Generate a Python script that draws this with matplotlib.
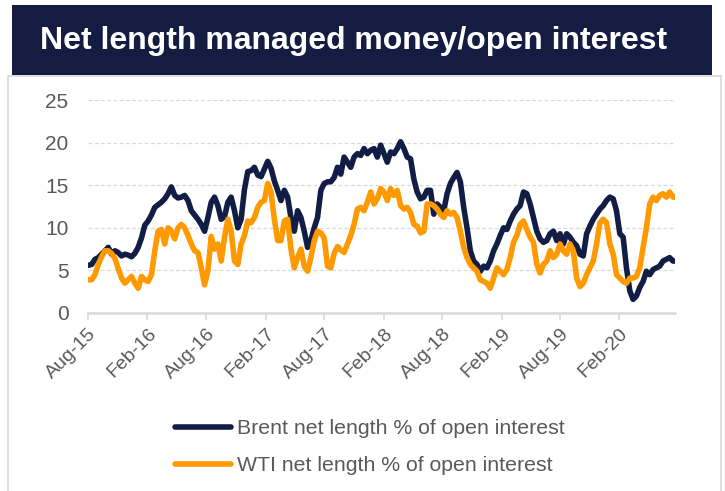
import matplotlib
matplotlib.use("Agg")
import matplotlib.pyplot as plt
import pandas as pd
from matplotlib.patches import Rectangle

title = "Net length managed money/open interest"
brent_label = "Brent net length % of open interest"
wti_label = "WTI net length % of open interest"

# weekly-ish readings, evenly spaced between these two dates
first_date = "2015-08-02"
last_date = "2020-07-26"

brent = [
    5.6, 5.7, 6.3, 6.5, 6.9, 7.3, 7.7, 6.9, 7.3, 7.1, 6.7, 6.9, 6.8, 6.6,
    7.0, 7.7, 8.8, 10.3, 10.8, 11.5, 12.4, 12.7, 13.0, 13.4, 14.0, 14.8, 13.8, 13.5,
    13.6, 13.8, 13.2, 12.0, 11.5, 11.0, 10.4, 9.6, 11.2, 13.0, 13.6, 12.6, 11.0, 11.3,
    13.0, 13.6, 12.0, 10.0, 11.0, 14.5, 16.6, 16.7, 17.1, 16.2, 16.0, 16.9, 17.8, 17.0,
    15.5, 14.4, 13.2, 14.4, 13.6, 11.2, 9.6, 12.0, 11.2, 9.6, 7.7, 8.5, 10.0, 11.2,
    14.4, 15.2, 15.4, 15.4, 15.9, 17.1, 16.3, 18.3, 17.7, 17.1, 18.3, 18.7, 18.5, 19.3, 18.7,
    19.1, 19.3, 18.3, 19.7, 18.7, 17.7, 18.9, 18.7, 19.3, 20.1, 19.3, 18.3, 18.1, 15.7,
    14.2, 13.4, 13.6, 14.4, 14.4, 11.6, 12.8, 12.4, 12.0, 14.0, 15.2, 15.9, 16.5, 15.4,
    12.4, 10.0, 7.3, 6.1, 5.7, 4.9, 5.5, 5.3, 6.1, 7.3, 8.1, 9.1, 10.0, 9.8,
    10.8, 11.6, 12.2, 12.6, 14.2, 14.0, 12.8, 11.2, 9.6, 8.7, 8.3, 8.5, 9.3, 9.6, 8.5,
    9.3, 8.1, 9.3, 8.9, 8.3, 7.9, 6.9, 6.7, 9.3, 10.2, 11.0, 11.6, 12.2, 12.6,
    13.2, 13.6, 13.4, 12.0, 9.3, 8.9, 5.3, 2.6, 1.6, 2.0, 3.0, 3.7, 4.9, 4.5,
    5.1, 5.3, 5.5, 6.1, 6.3, 6.5, 6.1, 6.1,
]

wti = [
    3.9, 3.9, 4.5, 5.7, 6.6, 7.3, 7.3, 7.0, 6.4, 5.2, 4.1, 3.5, 3.9, 4.3,
    3.5, 2.9, 4.3, 3.9, 3.7, 4.5, 7.3, 9.6, 9.8, 8.1, 10.0, 9.6, 8.7, 10.0,
    10.4, 10.0, 9.1, 8.1, 7.3, 7.1, 5.3, 3.3, 5.0, 9.0, 7.5, 8.1, 6.1, 8.9,
    11.0, 9.6, 6.1, 5.7, 8.1, 9.1, 10.8, 10.6, 11.2, 12.4, 13.0, 13.2, 15.2, 14.2,
    11.0, 8.5, 8.5, 10.8, 11.0, 7.5, 5.3, 6.5, 7.5, 5.5, 4.9, 6.5, 8.5, 9.6,
    9.4, 8.8, 5.5, 5.3, 7.0, 7.8, 7.4, 7.1, 8.1, 9.1, 10.4, 12.2, 12.4, 12.0, 13.0,
    14.2, 12.8, 13.4, 14.6, 14.2, 13.2, 14.6, 13.8, 14.4, 12.6, 12.2, 12.4, 11.8, 10.4,
    10.2, 9.4, 9.6, 12.8, 12.8, 12.6, 12.2, 11.6, 11.2, 12.0, 11.6, 11.8, 11.2, 9.6,
    7.7, 6.5, 5.7, 5.3, 4.9, 3.9, 3.7, 3.5, 2.9, 4.1, 5.3, 4.9, 4.5, 5.1,
    6.5, 8.3, 9.1, 10.4, 10.8, 9.8, 8.9, 8.3, 5.7, 4.7, 5.7, 6.1, 7.3, 6.5, 6.9,
    8.1, 7.3, 6.9, 8.1, 7.3, 4.1, 3.1, 3.5, 4.5, 5.3, 6.1, 8.1, 10.6, 11.0,
    10.6, 8.1, 6.9, 4.5, 4.1, 3.7, 3.5, 4.1, 4.1, 4.3, 5.3, 7.7, 10.0, 12.8,
    13.6, 13.2, 13.8, 14.0, 13.6, 14.2, 13.6, 13.6,
]

yticks = [0, 5, 10, 15, 20, 25]
xtick_dates = ["2015-08-01", "2016-02-01", "2016-08-01", "2017-02-01", "2017-08-01",
               "2018-02-01", "2018-08-01", "2019-02-01", "2019-08-01", "2020-02-01"]
xtick_labels = ["Aug-15", "Feb-16", "Aug-16", "Feb-17", "Aug-17",
                "Feb-18", "Aug-18", "Feb-19", "Aug-19", "Feb-20"]

NAVY = "#111d44"
ORANGE = "#ff9900"
GREY_TXT = "#595959"
GREY_LN = "#d9d9d9"

plt.rcParams['font.family'] = ['Liberation Sans', 'DejaVu Sans']

dates = pd.date_range(first_date, last_date, periods=len(brent))

W, H = 725, 491
fig = plt.figure(figsize=(W / 100, H / 100), dpi=100)

# outer box + title banner (behind the axes)
fig.patches.append(Rectangle((8 / W, -0.01), 713 / W, 1.01 - 76 / H, transform=fig.transFigure,
                             facecolor="white", edgecolor=GREY_LN, lw=1.2, zorder=-2))
fig.patches.append(Rectangle((12 / W, 1 - 75 / H), 700 / W, 70 / H, transform=fig.transFigure,
                             facecolor="#141c42", edgecolor="none", zorder=-1))
fig.text(40 / W, 1 - 41 / H, title, color="white", fontsize=23, fontweight="bold",
         ha="left", va="center")

ax = fig.add_axes([88 / W, 1 - 313 / H, 587 / W, 213 / H])
ax.patch.set_alpha(0)
ax.plot(dates, brent, color=NAVY, lw=4.0, solid_capstyle="round", label=brent_label, zorder=3)
ax.plot(dates, wti, color=ORANGE, lw=4.0, solid_capstyle="round", label=wti_label, zorder=3)

ax.set_ylim(0, 25)
ax.set_yticks(yticks)
ax.set_xlim(pd.Timestamp("2015-08-01"), pd.Timestamp("2020-07-22"))
ax.set_xticks([pd.Timestamp(d) for d in xtick_dates])
ax.set_xticklabels(xtick_labels, rotation=45, ha="right", va="top", rotation_mode="anchor")

ax.grid(axis="y", color=GREY_LN, lw=0.9, ls=(0, (3, 2)))
ax.set_axisbelow(True)
for s in ["top", "right", "left"]:
    ax.spines[s].set_visible(False)
ax.spines["bottom"].set_color(GREY_LN)
ax.spines["bottom"].set_linewidth(1.8)
ax.tick_params(axis="y", length=0, pad=14, labelsize=15, labelcolor=GREY_TXT)
ax.tick_params(axis="x", length=5, width=1.2, color=GREY_LN, pad=4,
               labelsize=14, labelcolor=GREY_TXT)

fig.legend(loc="center", bbox_to_anchor=(370 / W, 1 - 447 / H), frameon=False,
           fontsize=15.3, labelcolor=GREY_TXT, handlelength=2.6, handletextpad=0.3,
           labelspacing=0.85, borderpad=0)

fig.savefig("out.png", dpi=100)
